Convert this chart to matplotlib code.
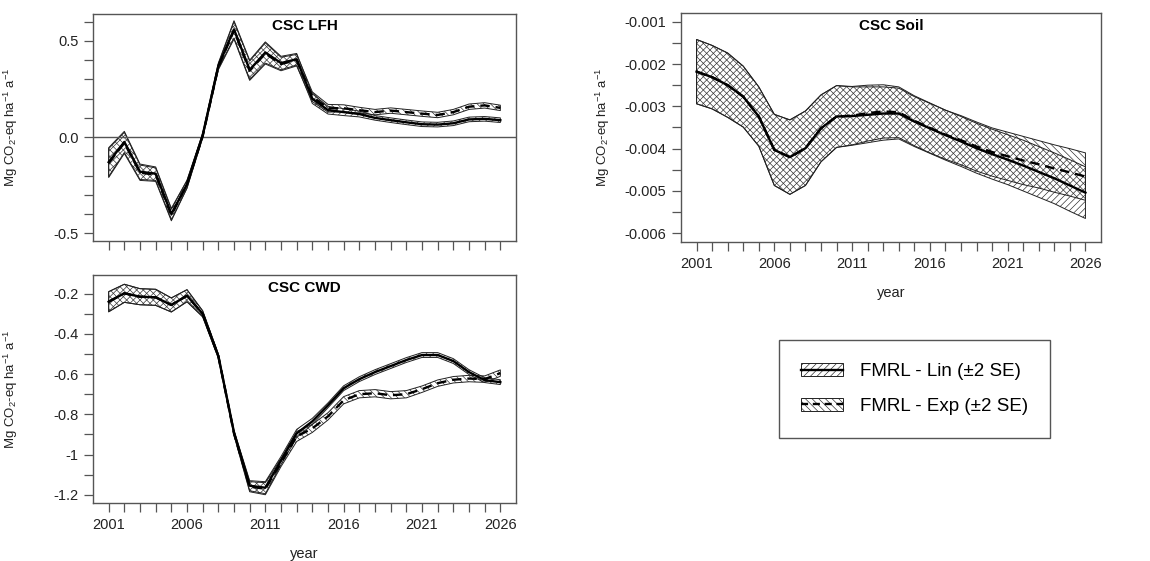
import numpy as np
import matplotlib
matplotlib.use("Agg")
import matplotlib.pyplot as plt
from matplotlib.patches import Patch
from matplotlib.lines import Line2D

plt.rcParams['font.family'] = ['Liberation Sans', 'DejaVu Sans']
plt.rcParams['mathtext.fontset'] = 'custom'
plt.rcParams['mathtext.rm'] = 'Liberation Sans'
plt.rcParams['mathtext.default'] = 'regular'
plt.rcParams['hatch.linewidth'] = 0.45

years = np.arange(2001, 2027)

# CSC LFH
lfh_lin = [-0.13, -0.025, -0.18, -0.19, -0.40, -0.245, 0.01, 0.37, 0.56, 0.35, 0.44, 0.385, 0.405,
           0.20, 0.14, 0.13, 0.12, 0.10, 0.088, 0.077, 0.067, 0.065, 0.072, 0.092, 0.095, 0.088]
lfh_lin_se = [0.075, 0.055, 0.04, 0.035, 0.03, 0.02, 0.01, 0.015, 0.045, 0.05, 0.055, 0.035, 0.03,
              0.025, 0.02, 0.018, 0.015, 0.012, 0.012, 0.012, 0.012, 0.012, 0.012, 0.012, 0.012, 0.012]
lfh_exp = [-0.135, -0.03, -0.185, -0.195, -0.405, -0.245, 0.005, 0.365, 0.555, 0.345, 0.435, 0.38, 0.40,
           0.21, 0.15, 0.15, 0.14, 0.13, 0.138, 0.13, 0.122, 0.115, 0.13, 0.158, 0.165, 0.152]
lfh_exp_se = [0.075, 0.055, 0.04, 0.035, 0.03, 0.02, 0.01, 0.015, 0.045, 0.05, 0.055, 0.035, 0.03,
              0.025, 0.02, 0.018, 0.015, 0.014, 0.014, 0.014, 0.014, 0.014, 0.014, 0.014, 0.014, 0.014]

# CSC CWD
cwd_lin = [-0.24, -0.198, -0.215, -0.218, -0.256, -0.21, -0.30, -0.51, -0.89, -1.155, -1.165, -1.03, -0.895,
           -0.835, -0.755, -0.67, -0.625, -0.59, -0.56, -0.53, -0.505, -0.505, -0.535, -0.59, -0.63, -0.64]
cwd_lin_se = [0.05, 0.045, 0.04, 0.04, 0.035, 0.03, 0.015, 0.01, 0.01, 0.025, 0.03, 0.02, 0.02,
              0.015, 0.012, 0.012, 0.012, 0.012, 0.012, 0.012, 0.012, 0.012, 0.012, 0.012, 0.012, 0.012]
cwd_exp = [-0.24, -0.198, -0.215, -0.218, -0.256, -0.21, -0.30, -0.51, -0.895, -1.16, -1.17, -1.04, -0.91,
           -0.87, -0.81, -0.73, -0.70, -0.695, -0.705, -0.70, -0.675, -0.645, -0.628, -0.622, -0.625, -0.595]
cwd_exp_se = [0.05, 0.045, 0.04, 0.04, 0.035, 0.03, 0.015, 0.01, 0.01, 0.025, 0.03, 0.02, 0.025,
              0.02, 0.018, 0.018, 0.018, 0.018, 0.018, 0.018, 0.016, 0.016, 0.016, 0.016, 0.016, 0.016]

# CSC Soil
soil_lin = [-0.00218, -0.00231, -0.0025, -0.00277, -0.00324, -0.00403, -0.0042, -0.00399, -0.00352,
            -0.00324, -0.00323, -0.0032, -0.00317, -0.00317, -0.00336, -0.00352, -0.00368, -0.00383,
            -0.00399, -0.00413, -0.00426, -0.0044, -0.00455, -0.0047, -0.00487, -0.00504]
soil_lin_se = [0.00076, 0.00075, 0.00076, 0.00072, 0.0007, 0.00084, 0.00088, 0.00088, 0.00079,
               0.00073, 0.00069, 0.00066, 0.00063, 0.0006, 0.00059, 0.00059, 0.00059, 0.00059,
               0.00059, 0.00059, 0.00059, 0.0006, 0.0006, 0.0006, 0.00061, 0.00061]
soil_exp = [-0.00218, -0.00231, -0.0025, -0.00277, -0.00324, -0.00403, -0.0042, -0.00399, -0.00352,
            -0.00324, -0.00322, -0.00316, -0.00312, -0.00314, -0.00334, -0.00351, -0.00367, -0.0038,
            -0.00395, -0.00408, -0.00418, -0.00428, -0.00437, -0.00447, -0.00456, -0.00466]
soil_exp_se = [0.00076, 0.00075, 0.00076, 0.00072, 0.0007, 0.00084, 0.00088, 0.00088, 0.00079,
               0.00073, 0.00069, 0.00066, 0.00063, 0.0006, 0.00059, 0.00059, 0.00058, 0.00058,
               0.00058, 0.00057, 0.00057, 0.00057, 0.00056, 0.00056, 0.00056, 0.00056]

ylab = "Mg CO$_2$-eq ha$^{-1}$ a$^{-1}$"
W, H = 1150, 561
fig = plt.figure(figsize=(W / 100, H / 100), dpi=100)

HATCH_LIN = '/' * 5
HATCH_EXP = '\\' * 5


def box(x0, x1, y0, y1):
    return [x0 / W, 1 - y1 / H, (x1 - x0) / W, (y1 - y0) / H]


def band(ax, y, se, hatch, ls):
    y = np.array(y)
    se = np.array(se)
    ax.fill_between(years, y - se, y + se, facecolor='none', edgecolor='#222',
                    hatch=hatch, linewidth=0.7)
    if ls == '-':
        ax.plot(years, y, color='black', lw=1.7, ls='-')
    else:
        ax.plot(years, y, color='black', lw=1.7, dashes=(4, 2.5))


def style(ax, title, yt, ylabels, yminor, ylim, xlabels=True, lab_x=-0.173):
    ax.set_xlim(2000, 2027)
    ax.set_ylim(*ylim)
    ax.set_xticks(np.arange(2001, 2027, 5))
    ax.set_xticks(years, minor=True)
    ax.set_yticks(yt)
    ax.set_yticks(yminor, minor=True)
    ax.set_yticklabels(ylabels)
    if xlabels:
        ax.set_xticklabels([str(v) for v in range(2001, 2027, 5)])
        ax.set_xlabel("year", fontsize=10.5, color='#222', labelpad=11)
    else:
        ax.set_xticklabels([])
    ax.tick_params(which='both', direction='out', length=6.5, width=0.9, color='#555',
                   labelsize=10.5, labelcolor='#222', pad=4)
    for s in ax.spines.values():
        s.set_color('#555')
        s.set_linewidth(1.0)
    ax.set_ylabel(ylab, fontsize=9.5, color='#222')
    ax.yaxis.set_label_coords(lab_x, 0.5)
    ax.text(0.5, 0.945, title, transform=ax.transAxes, ha='center', va='center',
            fontsize=11, fontweight='bold')


ax1 = fig.add_axes(box(93, 516, 14, 241))
ax1.axhline(0, color='#555', lw=1.0)
band(ax1, lfh_lin, lfh_lin_se, HATCH_LIN, '-')
band(ax1, lfh_exp, lfh_exp_se, HATCH_EXP, '--')
style(ax1, "CSC LFH", [-0.5, 0.0, 0.5], ["-0.5", "0.0", "0.5"],
      np.arange(-0.5, 0.61, 0.1), (-0.54, 0.64), xlabels=False)

ax2 = fig.add_axes(box(93, 516, 275, 503))
band(ax2, cwd_lin, cwd_lin_se, HATCH_LIN, '-')
band(ax2, cwd_exp, cwd_exp_se, HATCH_EXP, '--')
style(ax2, "CSC CWD", [-1.2, -1.0, -0.8, -0.6, -0.4, -0.2],
      ["-1.2", "-1", "-0.8", "-0.6", "-0.4", "-0.2"],
      np.arange(-1.2, -0.15, 0.1), (-1.241, -0.107))

ax3 = fig.add_axes(box(681, 1101, 13, 242))
band(ax3, soil_lin, soil_lin_se, HATCH_LIN, '-')
band(ax3, soil_exp, soil_exp_se, HATCH_EXP, '--')
style(ax3, "CSC Soil", [-0.006, -0.005, -0.004, -0.003, -0.002, -0.001],
      ["-0.006", "-0.005", "-0.004", "-0.003", "-0.002", "-0.001"],
      np.arange(-0.006, -0.00099, 0.0005), (-0.006206, -0.000794), lab_x=-0.164)

h_lin = (Patch(facecolor='none', edgecolor='#222', hatch='/' * 5, lw=0.7),
         Line2D([], [], color='black', lw=1.7))
h_exp = (Patch(facecolor='none', edgecolor='#222', hatch='\\' * 5, lw=0.7),
         Line2D([], [], color='black', lw=1.7, dashes=(3, 2)))
leg = fig.legend([h_lin, h_exp], ["FMRL - Lin (\u00b12 SE)", "FMRL - Exp (\u00b12 SE)"],
                 loc='center', bbox_to_anchor=(914.5 / W, 1 - 389 / H), fontsize=13.5,
                 frameon=True, fancybox=False, edgecolor='#555', framealpha=1,
                 handlelength=2.2, handleheight=0.7, handletextpad=0.9,
                 labelspacing=0.95, borderpad=1.2, borderaxespad=0)
leg.get_frame().set_linewidth(1.0)

fig.savefig("out.png", dpi=100)
